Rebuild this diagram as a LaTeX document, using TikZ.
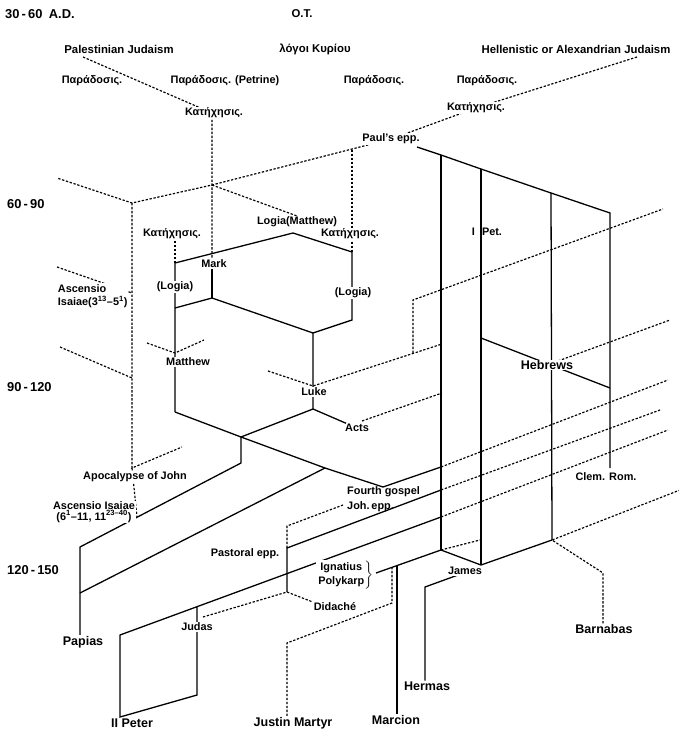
\documentclass[tikz,border=0pt]{standalone}
\usepackage{fontspec}
\setmainfont{Liberation Sans}
\pgfdeclarelayer{bg}
\pgfsetlayers{bg,main}

\begin{document}
\begin{tikzpicture}[x=0.03cm,y=-0.03cm,
  direct/.style={line width=1.1pt},
  indirect/.style={line width=1pt,dash pattern=on 2pt off 1.4pt},
  txt/.style={fill=white,inner sep=0.6pt,font=\fontsize{9.3}{11.5}\selectfont\bfseries},
  big/.style={txt,font=\fontsize{10.7}{13}\selectfont\bfseries},
  head/.style={txt,font=\fontsize{9.7}{12}\selectfont\bfseries},
  greek/.style={txt,font=\fontsize{9.3}{12}\selectfont\bfseries},
  era/.style={anchor=west,inner sep=0pt,font=\fontsize{11}{14}\selectfont\bfseries}]

\useasboundingbox (0,0) rectangle (679,733);

%-------------------------------------------------------------------
% Periods (left margin)
\node[era] (e1) at (5,14)  {30\,-\,60\enspace A.D.};
\node[era] (e2) at (7,204) {60\,-\,90};
\node[era] (e3) at (7,387) {90\,-\,120};
\node[era] (e4) at (7,570) {120\,-\,150};

%-------------------------------------------------------------------
% Sources and traditions
\node[head]  (ot)    at (302,14)  {O.T.};
\node[head]  (pal)   at (119,49)  {Palestinian Judaism};
\node[head]  (logoi) at (315,49)  {λόγοι Κυρίου};
\node[head]  (hel)   at (576,49)  {Hellenistic or Alexandrian Judaism};
\node[greek] (par1)  at (92,81)   {Παράδοσις.};
\node[greek] (par2)  at (225,81)  {Παράδοσις. (Petrine)};
\node[greek] (par3)  at (374,81)  {Παράδοσις.};
\node[greek] (par4)  at (487,81)  {Παράδοσις.};
\node[greek] (kat1)  at (214,113) {Κατήχησις.};
\node[greek] (kat2)  at (476,108) {Κατήχησις.};
\node[txt]   (paul)  at (391,139) {Paul's epp.};

% 60-90
\node[greek] (kat3) at (172,234) {Κατήχησις.};
\node[txt]   (logm) at (297,222) {Logia(Matthew)};
\node[greek] (kat4) at (350,234) {Κατήχησις.};
\node[txt]   (mark) at (214,264) {Mark};
\node[inner sep=0pt,font=\fontsize{9.3}{12}\selectfont\bfseries] (ipet) at (487,232) {I\hspace{6pt}Pet.};
\node[txt]   (logl) at (175,287) {(Logia)};
\node[txt]   (logr) at (353,293) {(Logia)};
\node[txt,anchor=west,align=left] (asc1) at (57,296)
  {Ascensio\\Isaiae(3\textsuperscript{13}–5\textsuperscript{1})};
\node[txt]   (matt) at (188,362) {Matthew};
\node[big]   (hebr) at (547,365) {Hebrews};

% 90-120
\node[txt] (luke) at (314,392) {Luke};
\node[txt] (acts) at (357,428) {Acts};
\node[txt] (apoc) at (135,477) {Apocalypse of John};
\node[txt,align=center] (asc2) at (94,512)
  {Ascensio Isaiae\\[-2pt](6\textsuperscript{1}–11, 11\textsuperscript{23–40})};
\node[txt] (clem) at (606,477) {Clem. Rom.};
\node[inner sep=0pt,anchor=west,align=left,font=\fontsize{9.3}{12.5}\selectfont\bfseries] (fourth) at (347,499)
  {Fourth gospel\\Joh.\,epp.};

% 120-150
\node[txt]   (past)  at (245,554) {Pastoral epp.};
\node[txt]   (ign)   at (345,575)
  {$\left.\begin{tabular}{@{}c@{}}Ignatius\\Polykarp\end{tabular}\right\}$};
\node[txt]   (james) at (465,571) {James};
\node[txt]   (did)   at (335,607) {Didaché};
\node[txt]   (judas) at (197,627) {Judas};
\node[big]   (papias) at (83,642) {Papias};
\node[big]   (barn)  at (604,629) {Barnabas};
\node[big]   (hermas) at (427,686) {Hermas};
\node[big]   (iipet) at (132,723) {II Peter};
\node[big]   (justin) at (293,723) {Justin Martyr};
\node[big]   (marcion) at (396,720) {Marcion};

%-------------------------------------------------------------------
% Junction points (pixel grid, y downwards)
\coordinate (palS) at (83,57);
\coordinate (katA) at (212,113);
\coordinate (cross) at (212,185);
\coordinate (ltS) at (57,178);
\coordinate (ltT) at (132,203);
\coordinate (k4T) at (352,150);
\coordinate (k3B) at (175,241);
\coordinate (helS) at (637,57);

\coordinate (paulR) at (417,147);
\coordinate (pa1) at (441,155);
\coordinate (pa2) at (481,169);
\coordinate (pa3) at (551,193);
\coordinate (pa4) at (610,213);
\coordinate (clemT) at (610,468);
\coordinate (hebL) at (481,338);
\coordinate (hebR) at (610,388);

\coordinate (lmA) at (175,263);
\coordinate (lmB) at (293,233);
\coordinate (lmC) at (352,252);
\coordinate (lmD) at (352,320);
\coordinate (lkT) at (313,333);
\coordinate (mkM) at (212,264);
\coordinate (mkB) at (212,298);
\coordinate (mtL) at (175,308);
\coordinate (mtV) at (175,353);
\coordinate (mtB) at (175,412);
\coordinate (lkM) at (313,386);
\coordinate (lkB) at (313,409);
\coordinate (mid) at (241,437);
\coordinate (midB) at (241,463);
\coordinate (papT) at (80,547);
\coordinate (papM) at (80,593);
\coordinate (jo1) at (325,468);
\coordinate (jo2) at (383,487);
\coordinate (jo3) at (441,467);

\coordinate (paV) at (287,548);
\coordinate (paB) at (287,592);
\coordinate (pa5) at (441,490);
\coordinate (pdT) at (287,526);
\coordinate (pdR) at (343,505);
\coordinate (ptT) at (120,635);
\coordinate (ptB) at (120,717);
\coordinate (juB) at (197,695);
\coordinate (juT) at (197,607);
\coordinate (jdR) at (203,617);
\coordinate (pa6) at (441,517);

\coordinate (igL) at (376,573);
\coordinate (igJ) at (392,567);
\coordinate (mcT) at (397,566);
\coordinate (ignR) at (441,550);
\coordinate (igX) at (480,540);
\coordinate (jamJ) at (481,565);
\coordinate (barJ) at (552,540);
\coordinate (baK) at (603,573);
\coordinate (heT) at (458,575);
\coordinate (heC) at (425,587);
\coordinate (jmK) at (392,603);
\coordinate (jmL) at (287,643);

\coordinate (apJ) at (132,468);
\coordinate (apR) at (182,447);
\coordinate (asJ) at (137,517);
\coordinate (a1L) at (57,267);
\coordinate (a1R) at (132,293);
\coordinate (a2L) at (60,347);
\coordinate (a2R) at (132,378);
\coordinate (mvL) at (147,343);
\coordinate (mvR) at (204,340);
\coordinate (lvL) at (268,371);
\coordinate (lkR) at (442,344);
\coordinate (upJ) at (413,353);
\coordinate (upT) at (413,300);
\coordinate (upR) at (663,209);
\coordinate (acL) at (362,421);
\coordinate (acR) at (442,393);

% free ends on the right
\coordinate (ex1) at (668,380);
\coordinate (ex2) at (660,410);
\coordinate (ex3) at (668,430);
\coordinate (ex4) at (680,490);
\coordinate (ex5) at (670,320);

%-------------------------------------------------------------------
\begin{pgfonlayer}{bg}

% Oral tradition (dotted)
\draw[indirect] (palS) -- (katA) -- (mkM);
\draw[indirect] (helS) -- (kat2.center) -- (paul.center) -- (cross) -- (ltT) -- (ltS);
\draw[indirect] (cross) -- (logm.north);
\draw[indirect] (k4T) -- (lmC);
\draw[indirect] (k3B) -- (lmA);
\draw[indirect] (ltT) -- (apJ) -- (apR);
\draw[indirect] (apJ) -- (asJ);
\draw[indirect] (a1L) -- (a1R);
\draw[indirect] (a2L) -- (a2R);
\draw[indirect] (mvL) -- (mtV) -- (mvR);
\draw[indirect] (lvL) -- (lkM) -- (lkR);
\draw[indirect] (upJ) -- (upT) -- (upR);
\draw[indirect] (acL) -- (acR);
\draw[indirect] (paV) -- (pdT) -- (pdR);
\draw[indirect] (jdR) -- (paB) -- (did.north west);
\draw[indirect] (igJ) -- (jmK) -- (jmL) -- (jmL |- justin.north);
\draw[indirect] (ignR) -- (igX);
\draw[indirect] (baK |- barn.north) -- (baK) -- (barJ) -- (ex4);
\draw[indirect] (hebr.center) -- (ex5);
\foreach \p/\q in {jo3/ex1, pa5/ex2, pa6/ex3}{
    \draw[indirect] (\p) -- (\q);}

% Written sources (solid)
\draw[direct] (paulR) -- (pa1) -- (pa2) -- (pa3) -- (pa4) -- (clemT);
\draw[direct] (pa1) -- (ignR);
\draw[direct] (pa2) -- (jamJ);
\draw[direct] (pa3) -- (barJ);
\draw[direct] (hebL) -- (hebR);

\draw[direct] (mtB) -- (lmA) -- (lmB) -- (lmC) -- (lmD) -- (lkT) -- (lkB);
\draw[direct] (mtL) -- (mkB) -- (lkT);
\draw[direct] (mkM) -- (mkB);
\draw[direct] (mtB) -- (mid) -- (lkB) -- (acts);
\draw[direct] (mid) -- (jo1) -- (jo2) -- (jo3);
\draw[direct] (mid) -- (midB) -- (papT) -- (papT |- papias.north);
\draw[direct] (jo1) -- (papM);

\draw[direct] (paB) -- (paV) -- (pa5);
\draw[direct] (pa6) -- (ptT) -- (ptB) -- (juB) -- (juT);

\draw[direct] (igL) -- (ignR) -- (jamJ) -- (barJ);
\draw[direct] (mcT) -- (mcT |- marcion.north);
\draw[direct] (heT) -- (heC) -- (heC |- hermas.north);

\end{pgfonlayer}

\end{tikzpicture}
\end{document}
